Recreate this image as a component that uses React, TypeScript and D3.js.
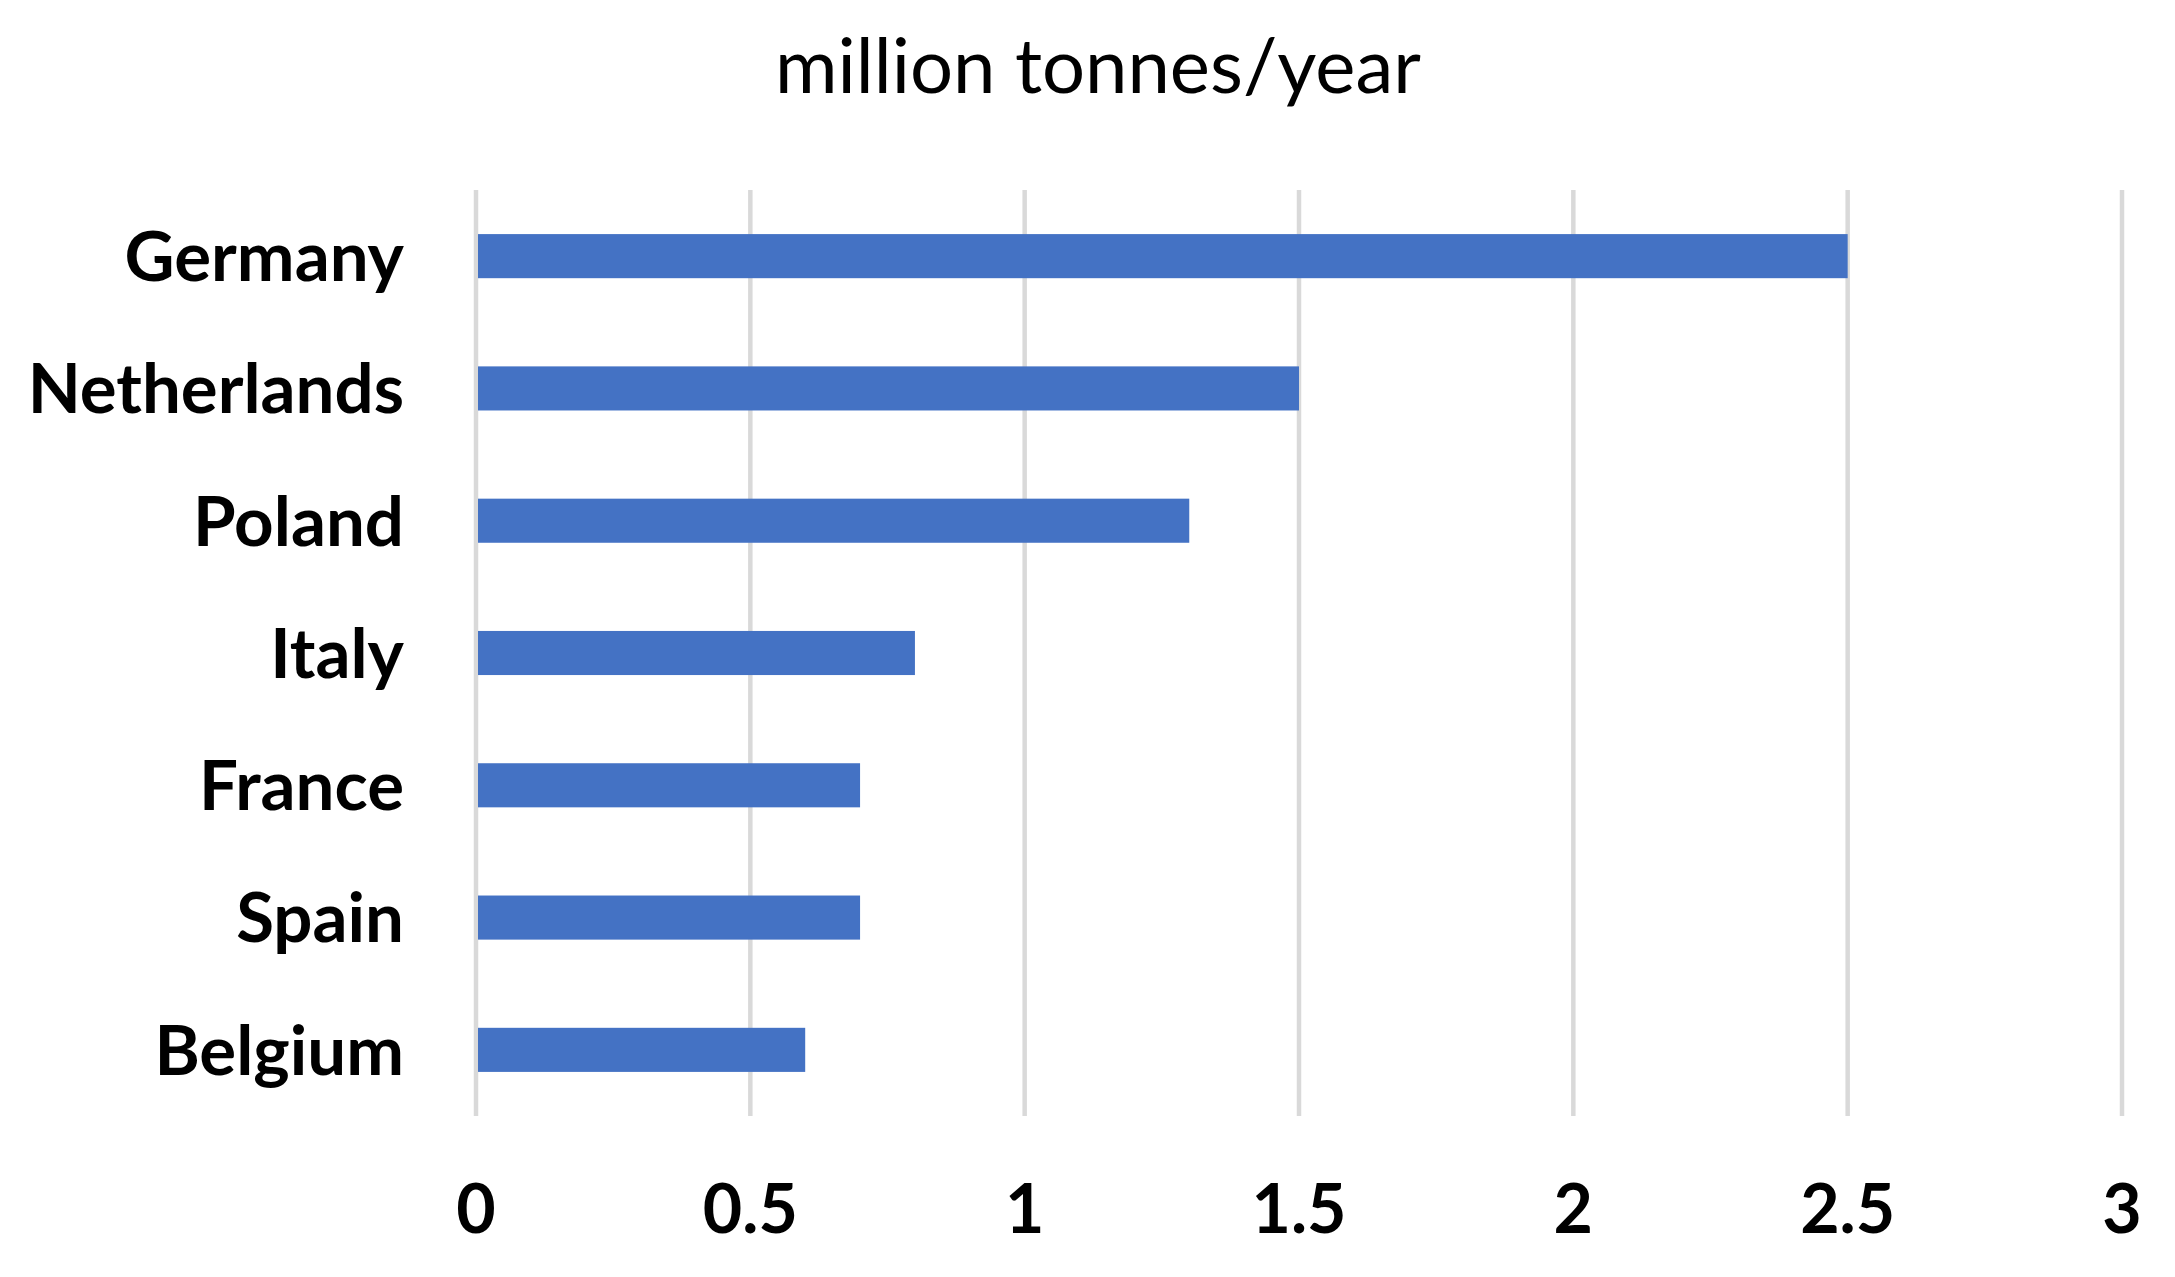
import React, { useEffect, useRef } from "react";
import * as d3 from "d3";

const countries = [
  "Germany",
  "Netherlands",
  "Poland",
  "Italy",
  "France",
  "Spain",
  "Belgium",
];
const production = [2.5, 1.5, 1.3, 0.8, 0.7, 0.7, 0.6];
const xTicks = [0, 0.5, 1, 1.5, 2, 2.5, 3];
const title = "million tonnes/year";

const App: React.FC = () => {
  const ref = useRef<SVGSVGElement | null>(null);

  useEffect(() => {
    document.body.style.margin = "0";
    const width = 2175,
      height = 1277;
    const margin = { top: 190, right: 53, bottom: 161, left: 476 };

    const svg = d3.select(ref.current);
    svg.selectAll("*").remove();
    svg.attr("width", width).attr("height", height);

    svg
      .append("rect")
      .attr("width", width)
      .attr("height", height)
      .attr("fill", "#ffffff");

    const x = d3
      .scaleLinear()
      .domain([0, 3])
      .range([margin.left, width - margin.right]);

    const y = d3
      .scaleBand()
      .domain(countries)
      .range([margin.top, height - margin.bottom])
      .paddingInner(2 / 3)
      .paddingOuter(1 / 3);

    // vertical gridlines
    svg
      .append("g")
      .selectAll("line")
      .data(xTicks)
      .enter()
      .append("line")
      .attr("x1", (d) => x(d))
      .attr("x2", (d) => x(d))
      .attr("y1", margin.top)
      .attr("y2", height - margin.bottom)
      .attr("stroke", "#d9d9d9")
      .attr("stroke-width", 4.5);

    // bars
    svg
      .append("g")
      .selectAll("rect")
      .data(countries)
      .enter()
      .append("rect")
      .attr("x", x(0) + 2)
      .attr("y", (d) => y(d)!)
      .attr("width", (_d, i) => x(production[i]) - x(0) - 2)
      .attr("height", y.bandwidth())
      .attr("fill", "#4472c4");

    // category labels
    svg
      .append("g")
      .selectAll("text")
      .data(countries)
      .enter()
      .append("text")
      .attr("x", 404)
      .attr("y", (d) => y(d)! + y.bandwidth() / 2)
      .attr("dy", "0.36em")
      .attr("text-anchor", "end")
      .style("font-family", "Lato, 'Open Sans', sans-serif")
      .style("font-weight", "bold")
      .style("font-size", "69px")
      .attr("fill", "#000")
      .text((d) => d);

    // x tick labels
    svg
      .append("g")
      .selectAll("text")
      .data(xTicks)
      .enter()
      .append("text")
      .attr("x", (d) => x(d))
      .attr("y", 1233)
      .attr("text-anchor", "middle")
      .style("font-family", "Lato, 'Open Sans', sans-serif")
      .style("font-weight", "bold")
      .style("font-size", "68px")
      .attr("fill", "#000")
      .text((d) => String(d));

    // title
    svg
      .append("text")
      .attr("x", 1098)
      .attr("y", 93)
      .attr("text-anchor", "middle")
      .style("font-family", "Lato, 'Open Sans', sans-serif")
      .style("font-size", "76px")
      .attr("fill", "#000")
      .text(title);
  }, []);

  return <svg ref={ref} style={{ display: "block" }} />;
};

export default App;
